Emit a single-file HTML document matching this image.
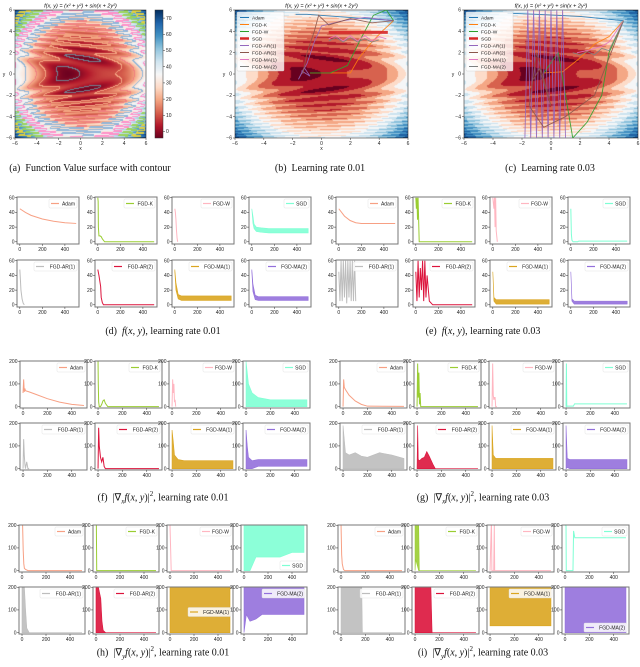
<!DOCTYPE html>
<html><head><meta charset="utf-8">
<style>
html,body{margin:0;padding:0;background:#fff;}
#root{position:relative;width:640px;height:667px;overflow:hidden;font-family:"Liberation Sans",sans-serif;}
canvas{position:absolute;}
#ov{position:absolute;left:0;top:0;}
.cap{position:absolute;font-family:"Liberation Serif",serif;font-size:10px;color:#111;white-space:nowrap;transform:translateX(-50%);}
</style></head>
<body>
<div id="root">
<canvas id="ca" width="131" height="128" style="left:15px;top:10px"></canvas>
<canvas id="cbar" width="8" height="128" style="left:155px;top:10px"></canvas>
<canvas id="cb" width="173" height="128" style="left:235px;top:10px"></canvas>
<canvas id="cc" width="174" height="128" style="left:464px;top:10px"></canvas>
<svg id="ov" width="640" height="667" xmlns="http://www.w3.org/2000/svg"></svg>
<div class="cap" style="left:90px;top:163px">(a)&nbsp; Function Value surface with contour</div>
<div class="cap" style="left:320px;top:163px">(b)&nbsp; Learning rate 0.01</div>
<div class="cap" style="left:550px;top:163px">(c)&nbsp; Learning rate 0.03</div>
<div class="cap" style="left:163px;top:326px">(d)&nbsp; <i>f</i>(<i>x</i>, <i>y</i>), learning rate 0.01</div>
<div class="cap" style="left:483px;top:326px">(e)&nbsp; <i>f</i>(<i>x</i>, <i>y</i>), learning rate 0.03</div>
<div class="cap" style="left:163px;top:490px">(f)&nbsp; |∇<sub style="font-size:7px"><i>x</i></sub><i>f</i>(<i>x</i>, <i>y</i>)|<sup style="font-size:7px">2</sup>, learning rate 0.01</div>
<div class="cap" style="left:483px;top:490px">(g)&nbsp; |∇<sub style="font-size:7px"><i>x</i></sub><i>f</i>(<i>x</i>, <i>y</i>)|<sup style="font-size:7px">2</sup>, learning rate 0.03</div>
<div class="cap" style="left:163px;top:645px">(h)&nbsp; |∇<sub style="font-size:7px"><i>y</i></sub><i>f</i>(<i>x</i>, <i>y</i>)|<sup style="font-size:7px">2</sup>, learning rate 0.01</div>
<div class="cap" style="left:483px;top:645px">(i)&nbsp; |∇<sub style="font-size:7px"><i>y</i></sub><i>f</i>(<i>x</i>, <i>y</i>)|<sup style="font-size:7px">2</sup>, learning rate 0.03</div>
</div>
<script>
// ---------- chart data ----------
const methods = ["Adam","FGD-K","FGD-W","SGD","FGD-AR(1)","FGD-AR(2)","FGD-MA(1)","FGD-MA(2)"];
const smallColors = ["#f7a084","#9acd32","#ffb6c1","#7fffd4","#bdbdbd","#dc143c","#daa520","#9370db"];
const trajColors = ["#1f77b4","#ff7f0e","#2ca02c","#d62728","#9467bd","#8c564b","#e377c2","#7f7f7f"];
const surfTicks = [-6,-4,-2,0,2,4,6];
const cbarTicks = [0,10,20,30,40,50,60,70];
const contourLevels = [0,10,20,30,40,50,60];
const contourColors = ["#708090","#f4a582","#f08080","#8fb5d8","#ff8fc8","#9ad35a","#e0d040"];
const fTicks = [0,20,40,60];
const gTicks = [0,100,200];
const iterTicks = [0,200,400];

// (d) f, lr 0.01
const d_adam_x=[0,50,100,200,300,400,500], d_adam_y=[45,40,36,31,28,26,25];
const d_k_x=[0,3,5,10,20,30,40,60,100,500], d_k_y=[60,55,20,8,8,7,4,0,0,0];
const d_w_x=[0,5,10,15,20,25], d_w_y=[45,40,30,15,5,0];
const d_sgd_x=[0,10,20,40,80,150,500], d_sgd_lo=[45,25,18,14,13,12,12], d_sgd_hi=[45,35,24,20,19,18,18];
const d_ar1_x=[0,5,10,20,30,40], d_ar1_y=[48,35,20,8,2,0];
const d_ar2_x=[0,10,20,25,30,40,50,500], d_ar2_y=[48,40,30,25,10,3,0,0];
const d_ma1_x=[0,10,30,60,500], d_ma1_lo=[45,20,8,6,6], d_ma1_hi=[48,30,14,12,12];
const d_ma2_x=[0,10,30,60,500], d_ma2_lo=[45,18,7,6,6], d_ma2_hi=[48,28,13,11,11];
// (e) f, lr 0.03
const e_adam_x=[0,50,100,150,200,300,500], e_adam_y=[45,35,29,26,25,25,25];
const e_k_x=[0,5,10,15,20,30,500], e_k_y=[60,45,60,30,60,0,0];
const e_w_x=[0,10,15,20,25,30,40], e_w_y=[60,45,60,20,60,15,0];
const e_sgd_x=[0,5,10,20,60,70,500], e_sgd_y=[45,10,2,0,0,1,1];
const e_ar1_x=[0,10,20,30,40,50,60,70,80,90,100,110,120,130,140,150], e_ar1_y=[45,5,60,5,60,10,60,2,60,10,60,5,60,5,60,5];
const e_ar2_x=[0,10,20,30,40,50,60,70,80,90,100,120,150,500], e_ar2_y=[45,5,60,10,50,20,60,5,60,10,40,5,0,0];
const e_ma1_x=[0,10,30,500], e_ma1_lo=[45,5,1,1], e_ma1_hi=[45,10,7,7];
const e_ma2_x=[0,10,30,500], e_ma2_lo=[45,5,1,1], e_ma2_hi=[45,8,5,5];
// (f) grad x, lr 0.01
const f_adam_x=[0,5,10,15,20,50,100,200,300,400,500], f_adam_y=[60,120,65,80,70,65,55,35,20,10,5];
const f_k_x=[0,2,5,10,20,30,40,50,60,80,500], f_k_y=[200,100,20,0,0,10,25,30,15,0,0];
const f_w_x=[0,5,10,15,20,25,30], f_w_y=[0,120,60,100,20,30,0];
const f_sgd_x=[0,10,20,50,100,200,500], f_sgd_lo=[0,0,0,0,0,0,0], f_sgd_hi=[200,150,100,60,40,30,30];
const f_ar1_x=[0,5,10,15,20,30,40,50], f_ar1_y=[0,130,60,20,0,30,0,0];
const f_ar2_x=[0,5,10,20,30,40,50,60,500], f_ar2_y=[0,180,100,50,30,50,10,0,0];
const f_ma1_x=[0,10,20,50,100,500], f_ma1_lo=[0,0,0,0,0,0], f_ma1_hi=[170,120,60,40,35,35];
const f_ma2_x=[0,10,20,50,100,500], f_ma2_lo=[0,0,0,0,10,10], f_ma2_hi=[170,100,50,35,40,40];
// (g) grad x, lr 0.03
const g_adam_x=[0,5,10,20,50,100,150,200,500], g_adam_y=[0,120,85,75,50,25,10,2,1];
const g_k_x=[0,5,10,15,20,25,30,500], g_k_y=[0,190,40,150,10,60,0,0];
const g_w_x=[0,5,10,15,20,25,30,40], g_w_y=[0,190,50,30,40,40,0,0];
const g_sgd_x=[0,3,6,10,60,70,500], g_sgd_y=[0,190,0,2,2,12,12];
const g_ar1_x=[0,20,50,100,150,200,300,400,500], g_ar1_lo=[0,0,0,0,0,0,0,0,0], g_ar1_hi=[190,70,60,70,55,50,70,60,45];
const g_ar2_x=[0,5,10,20,40,60,80,100,130,150,500], g_ar2_lo=[0,0,0,0,0,0,0,0,0,0,0], g_ar2_hi=[0,190,40,35,45,50,75,55,20,0,0];
const g_ma1_x=[0,10,30,500], g_ma1_lo=[0,0,0,0], g_ma1_hi=[190,60,45,45];
const g_ma2_x=[0,10,30,500], g_ma2_lo=[0,5,0,0], g_ma2_hi=[190,45,40,40];
// (h) grad y, lr 0.01
const h_adam_x=[0,5,10,15,20,30,50,500], h_adam_y=[200,200,90,30,10,5,0,0];
const h_k_x=[0,3,6,10,500], h_k_y=[200,200,0,0,0];
const h_w_x=[0,5,10,12,500], h_w_y=[200,100,0,0,0];
const h_sgd_x=[0,20,50,100,200,300,400,500], h_sgd_lo=[0,0,0,60,60,60,80,80], h_sgd_hi=[200,200,200,200,200,200,200,200];
const h_ar1_x=[0,10,20,30,40,60,500], h_ar1_lo=[0,0,0,0,0,0,0], h_ar1_hi=[200,200,200,100,20,0,0];
const h_ar2_x=[0,20,40,50,60,80,500], h_ar2_lo=[0,0,0,0,0,0,0], h_ar2_hi=[200,200,150,50,10,0,0];
const h_ma1_x=[0,50,100,300,500], h_ma1_lo=[0,0,0,0,0], h_ma1_hi=[200,200,200,200,200];
const h_ma2_x=[0,20,50,100,150,500], h_ma2_lo=[0,80,50,60,80,80], h_ma2_hi=[200,200,200,200,200,200];
// (i) grad y, lr 0.03
const i_adam_x=[0,5,10,20,30,500], i_adam_y=[200,70,30,5,0,0];
const i_k_x=[0,5,30,35,500], i_k_lo=[0,50,0,0,0], i_k_hi=[200,200,200,0,0];
const i_w_x=[0,10,12,15,30,35,38,500], i_w_y=[0,200,200,0,0,200,0,0];
const i_sgd_x=[0,8,10,65,70,80,500], i_sgd_y=[200,200,0,0,175,145,145];
const i_ar1_x=[0,100,170,175,500], i_ar1_lo=[0,0,0,0,0], i_ar1_hi=[200,200,200,0,0];
const i_ar2_x=[0,100,130,140,500], i_ar2_lo=[0,0,0,0,0], i_ar2_hi=[200,200,200,0,0];
const i_ma1_x=[0,100,300,500], i_ma1_lo=[30,30,30,30], i_ma1_hi=[200,200,200,200];
const i_ma2_x=[0,10,30,500], i_ma2_lo=[0,0,0,0], i_ma2_hi=[200,200,200,200];

// trajectories (data coords x,y)
const tb_adam_x=[5,3,1,-1,-1.8], tb_adam_y=[5,5.2,5.4,5.6,5.6];
const tb_k_x=[5,4.2,3.5,2.6,2,0.5,-0.8], tb_k_y=[5,4,3,1.5,0.1,0.1,0.1];
const tb_w_x=[5,4.5,3.6,2.8,1.8,0.6,-0.8], tb_w_y=[5,6,5.5,3.5,0.8,0.1,0.1];
const tb_sgd_x=[0.5,4.6], tb_sgd_y=[3.9,3.9];
const tb_ar1_x=[5,3,1.5,0,-0.5,-1,-1.6,-1.2,-0.8,-1.4], tb_ar1_y=[5,5.3,5,4.5,3,1,-0.5,0.6,-0.2,0.3];
const tb_ar2_x=[5,3.5,2,0.5,-0.2,-0.5,-1,-1.3], tb_ar2_y=[5,4.8,5.2,4.6,5.5,4,2,0];
const tb_ma1_x=[0.5,1,1.5,2,2.5,3,3.5,4,4.5], tb_ma1_y=[3.3,3.6,3.1,3.6,3.1,3.6,3.1,3.5,3.3];
const tb_ma2_x=[0.5,1,1.5,2,2.5,3,3.5,4], tb_ma2_y=[3.1,3.4,3,3.4,3,3.3,3,3.2];
const tc_adam_x=[5,2,-1,-3], tc_adam_y=[5,5.4,5.6,5.7];
const tc_k_x=[5,4,3,2,0.8,-0.5], tc_k_y=[5,3.5,2.8,1.5,0.2,0.1];
const tc_w_x=[5,4,3.5,2.5,1.5,0.5,-0.5], tc_w_y=[5,2,-2,-4.5,-6,2,0.1];
const tc_ar1_x=[-1.8,-1.6,-1.4,-1.2,-1,-0.8,-0.6,-0.4,-0.2,0,0.2,0.4,0.6,0.8,1], tc_ar1_y=[-6,6,-6,6,-6,6,-6,6,-6,6,-6,6,-6,6,-6];
const tc_ar2_x=[5,3,1,-0.5,-1.5,-1,0,-0.8,-1.2], tc_ar2_y=[5,-2,-4,-5,-3,2,-3,0.5,-0.5];
const tc_ma1_x=[5,4,3.5,3,2.5,1.8], tc_ma1_y=[5,3,2.6,2.4,2.2,2];
const tc_ma2_x=[5,4,3.5,3,2.5,2,1.5], tc_ma2_y=[5,2.2,2.4,1.8,2.1,1.8,2];

// ---------- helpers ----------
const NS="http://www.w3.org/2000/svg";
const svg=document.getElementById('ov');
function el(tag,attrs,parent){const e=document.createElementNS(NS,tag);for(const k in attrs)e.setAttribute(k,attrs[k]);(parent||svg).appendChild(e);return e;}
function fxy(x,y){return x*x+y*y+5*Math.sin(x+2*y*y);}
const stops=[[0,[103,0,31]],[0.1,[178,24,43]],[0.2,[214,96,77]],[0.3,[244,165,130]],[0.4,[253,219,199]],[0.5,[247,247,247]],[0.6,[209,229,240]],[0.7,[146,197,222]],[0.8,[67,147,195]],[0.9,[33,102,172]],[1,[5,48,97]]];
function cmap(t){t=Math.max(0,Math.min(1,t));for(let i=1;i<stops.length;i++){if(t<=stops[i][0]){const a=stops[i-1],b=stops[i];const u=(t-a[0])/(b[0]-a[0]);return a[1].map((v,k)=>Math.round(v+(b[1][k]-v)*u));}}return stops[stops.length-1][1];}
const VMIN=-4,VMAX=75;
function hexToRgb(h){return [parseInt(h.substr(1,2),16),parseInt(h.substr(3,2),16),parseInt(h.substr(5,2),16)];}

function drawSurface(id,discrete,contours){
  const c=document.getElementById(id),ctx=c.getContext('2d'),W=c.width,H=c.height;
  const img=ctx.createImageData(W,H);
  const vals=[];
  for(let j=0;j<H;j++){for(let i=0;i<W;i++){const x=-6+12*(i+0.5)/W,y=6-12*(j+0.5)/H;vals.push(fxy(x,y));}}
  for(let p=0;p<W*H;p++){let v=vals[p];if(discrete){v=Math.floor(v/8)*8+4;}
    const col=cmap((v-VMIN)/(VMAX-VMIN));img.data[p*4]=col[0];img.data[p*4+1]=col[1];img.data[p*4+2]=col[2];img.data[p*4+3]=255;}
  if(contours){
    for(let j=0;j<H-1;j++)for(let i=0;i<W-1;i++){const p=j*W+i,a=vals[p],b=vals[p+1],d=vals[p+W];
      contourLevels.forEach((L,k)=>{if((a-L)*(b-L)<0||(a-L)*(d-L)<0){const rgb=hexToRgb(contourColors[k]);img.data[p*4]=rgb[0];img.data[p*4+1]=rgb[1];img.data[p*4+2]=rgb[2];}});}
  }
  ctx.putImageData(img,0,0);
}
drawSurface('ca',false,true);
drawSurface('cb',true,false);
drawSurface('cc',true,false);
(function(){const c=document.getElementById('cbar'),ctx=c.getContext('2d');for(let j=0;j<c.height;j++){const v=VMAX-(VMAX-VMIN)*j/c.height;const col=cmap((v-VMIN)/(VMAX-VMIN));ctx.fillStyle='rgb('+col.join(',')+')';ctx.fillRect(0,j,c.width,1);}})();

function surfaceAxes(name,x0,y0,w,h,title){
  const g=el('g',{});
  
  
  const sx=v=>x0+(v+6)/12*w, sy=v=>y0+(6-v)/12*h;
  el('rect',{x:x0,y:y0,width:w,height:h,fill:'none',stroke:'#333','stroke-width':0.6},g);
  surfTicks.forEach(t=>{
    el('line',{x1:sx(t),x2:sx(t),y1:y0+h,y2:y0+h+2,stroke:'#333','stroke-width':0.5},g);
    const tx=el('text',{x:sx(t),y:y0+h+7,'font-size':5,'text-anchor':'middle',fill:'#222'},g);tx.textContent=(t<0?'−'+(-t):t);
    el('line',{x1:x0-2,x2:x0,y1:sy(t),y2:sy(t),stroke:'#333','stroke-width':0.5},g);
    const ty=el('text',{x:x0-3,y:sy(t)+1.7,'font-size':5,'text-anchor':'end',fill:'#222'},g);ty.textContent=(t<0?'−'+(-t):t);
  });
  const xl=el('text',{x:x0+w/2,y:y0+h+12,'font-size':5,'text-anchor':'middle',fill:'#222'},g);xl.textContent='x';
  const yl=el('text',{x:x0-11,y:y0+h/2+2,'font-size':5,'text-anchor':'middle',fill:'#222'},g);yl.textContent='y';
  const tt=el('text',{x:x0+w/2,y:y0-2.5,'font-size':5.5,'text-anchor':'middle',fill:'#111','font-style':'italic'},g);
  tt.textContent=title;
  return {sx,sy,g};
}
const TITLE='f(x, y) = (x² + y²) + sin(x + 2y²)';
surfaceAxes('surface-axes-a',15,10,131,128,TITLE);
(function(){const g=el('g',{});
  el('rect',{x:155,y:10,width:8,height:128,fill:'none',stroke:'#333','stroke-width':0.5},g);
  cbarTicks.forEach(t=>{const y=10+(VMAX-t)/(VMAX-VMIN)*128;el('line',{x1:163,x2:165,y1:y,y2:y,stroke:'#333','stroke-width':0.5},g);
    const tx=el('text',{x:166,y:y+1.7,'font-size':5,fill:'#222'},g);tx.textContent=t;});})();

function trajPlot(name,x0,w,sets){
  const ax=surfaceAxes(name,x0,10,w,128,TITLE);
  const cp=el('clipPath',{id:'clip-'+name});el('rect',{x:x0,y:10,width:w,height:128},cp);
  sets.forEach((s,k)=>{const pts=s[0].map((v,i)=>ax.sx(v)+','+ax.sy(s[1][i])).join(' ');
    const pl=el('polyline',{points:pts,fill:'none',stroke:trajColors[k],'stroke-width':k===3?3:0.9,'clip-path':'url(#clip-'+name+')',opacity:0.9},ax.g);
    
    });
  const lg=el('g',{},ax.g);
  
  
  el('rect',{x:x0+2,y:12,width:47,height:59,fill:'#fff','fill-opacity':0.8,stroke:'#ccc','stroke-width':0.4,rx:1},lg);
  methods.forEach((m,k)=>{const y=17.5+k*7;el('line',{x1:x0+5,x2:x0+14,y1:y,y2:y,stroke:trajColors[k],'stroke-width':k===3?2.5:1},lg);
    const t=el('text',{x:x0+17,y:y+1.8,'font-size':4.8,fill:'#222'},lg);t.textContent=m;});
}
trajPlot('trajectory-plot-b',235,173,[[tb_adam_x,tb_adam_y],[tb_k_x,tb_k_y],[tb_w_x,tb_w_y],[tb_sgd_x,tb_sgd_y],[tb_ar1_x,tb_ar1_y],[tb_ar2_x,tb_ar2_y],[tb_ma1_x,tb_ma1_y],[tb_ma2_x,tb_ma2_y]]);
trajPlot('trajectory-plot-c',464,174,[[tc_adam_x,tc_adam_y],[tc_k_x,tc_k_y],[tc_w_x,tc_w_y],[[],[]],[tc_ar1_x,tc_ar1_y],[tc_ar2_x,tc_ar2_y],[tc_ma1_x,tc_ma1_y],[tc_ma2_x,tc_ma2_y]]);

let clipN=0;
function smallPanel(name,x0,y0,w,h,kind,mi,series,legendPos){
  const g=el('g',{});
  
  
  const ylim=kind==='f'?[-3,61]:[-6,201], ticks=kind==='f'?fTicks:gTicks;
  const sx=v=>x0+(v+25)/550*w, sy=v=>y0+h-(v-ylim[0])/(ylim[1]-ylim[0])*h;
  const id='sp'+(clipN++);const cp=el('clipPath',{id:id});el('rect',{x:x0,y:y0,width:w,height:h},cp);
  const col=smallColors[mi];
  series.forEach(s=>{
    if(s.lo){const up=s.x.map((v,i)=>sx(v)+','+sy(s.hi[i]));const dn=s.x.map((v,i)=>sx(v)+','+sy(s.lo[i])).reverse();
      const p=el('polygon',{points:up.concat(dn).join(' '),fill:col,'fill-opacity':0.9,stroke:col,'stroke-width':0.6,'clip-path':'url(#'+id+')'},g);
      
      }
    else{const p=el('polyline',{points:s.x.map((v,i)=>sx(v)+','+sy(s.y[i])).join(' '),fill:'none',stroke:col,'stroke-width':1,'clip-path':'url(#'+id+')'},g);
      
      }
  });
  el('rect',{x:x0,y:y0,width:w,height:h,fill:'none',stroke:'#777','stroke-width':1},g);
  ticks.forEach(t=>{el('line',{x1:x0-2,x2:x0,y1:sy(t),y2:sy(t),stroke:'#333','stroke-width':0.5},g);
    const tx=el('text',{x:x0-2.5,y:sy(t)+1.8,'font-size':5,'text-anchor':'end',fill:'#222'},g);tx.textContent=t;});
  iterTicks.forEach(t=>{el('line',{x1:sx(t),x2:sx(t),y1:y0+h,y2:y0+h+2,stroke:'#333','stroke-width':0.5},g);
    const tx=el('text',{x:sx(t),y:y0+h+7,'font-size':5,'text-anchor':'middle',fill:'#222'},g);tx.textContent=t;});
  const label=methods[mi];const lw=label.length*3+16;
  let lx=x0+w-lw-2, ly=y0+2;
  if(legendPos==='br'){ly=y0+h-11;}
  if(legendPos==='mr'){ly=y0+h/2-3;}
  const lg=el('g',{},g);
  
  
  el('rect',{x:lx,y:ly,width:lw,height:9,fill:'#fff','fill-opacity':0.85,stroke:'#ddd','stroke-width':0.4,rx:1},lg);
  el('line',{x1:lx+2,x2:lx+10,y1:ly+4.5,y2:ly+4.5,stroke:col,'stroke-width':1.2},lg);
  const t=el('text',{x:lx+lw-2,y:ly+6.3,'font-size':5,'text-anchor':'end',fill:'#222'},lg);t.textContent=label;
}
function L(x,y){return {x,y};} function B(x,lo,hi){return {x,lo,hi};}
function grid(prefix,kind,xs,rows,w,h,sets,pos){
  for(let k=0;k<8;k++){const r=Math.floor(k/4),c=k%4;
    smallPanel(prefix+'-'+methods[k].toLowerCase().replace(/[()]/g,''),xs[c],rows[r],w,h,kind,k,[sets[k]],(pos&&pos[k])||'tr');}
}
grid('panel-d','f',[17,95,172,249],[197,260],62,47,[L(d_adam_x,d_adam_y),L(d_k_x,d_k_y),L(d_w_x,d_w_y),B(d_sgd_x,d_sgd_lo,d_sgd_hi),L(d_ar1_x,d_ar1_y),L(d_ar2_x,d_ar2_y),B(d_ma1_x,d_ma1_lo,d_ma1_hi),B(d_ma2_x,d_ma2_lo,d_ma2_hi)]);
grid('panel-e','f',[336,413,490,568],[197,260],62,47,[L(e_adam_x,e_adam_y),L(e_k_x,e_k_y),L(e_w_x,e_w_y),L(e_sgd_x,e_sgd_y),L(e_ar1_x,e_ar1_y),L(e_ar2_x,e_ar2_y),B(e_ma1_x,e_ma1_lo,e_ma1_hi),B(e_ma2_x,e_ma2_lo,e_ma2_hi)]);
grid('panel-f','g',[20,95,169,243],[361,423],67,47,[L(f_adam_x,f_adam_y),L(f_k_x,f_k_y),L(f_w_x,f_w_y),B(f_sgd_x,f_sgd_lo,f_sgd_hi),L(f_ar1_x,f_ar1_y),L(f_ar2_x,f_ar2_y),B(f_ma1_x,f_ma1_lo,f_ma1_hi),B(f_ma2_x,f_ma2_lo,f_ma2_hi)]);
grid('panel-g','g',[340,414,489,563],[361,423],67,47,[L(g_adam_x,g_adam_y),L(g_k_x,g_k_y),L(g_w_x,g_w_y),L(g_sgd_x,g_sgd_y),B(g_ar1_x,g_ar1_lo,g_ar1_hi),B(g_ar2_x,g_ar2_lo,g_ar2_hi),B(g_ma1_x,g_ma1_lo,g_ma1_hi),B(g_ma2_x,g_ma2_lo,g_ma2_hi)]);
grid('panel-h','g',[19,93,167,241],[525,587],66,47,[L(h_adam_x,h_adam_y),L(h_k_x,h_k_y),L(h_w_x,h_w_y),B(h_sgd_x,h_sgd_lo,h_sgd_hi),B(h_ar1_x,h_ar1_lo,h_ar1_hi),B(h_ar2_x,h_ar2_lo,h_ar2_hi),B(h_ma1_x,h_ma1_lo,h_ma1_hi),B(h_ma2_x,h_ma2_lo,h_ma2_hi)],[0,0,0,'br',0,0,'mr',0]);
grid('panel-i','g',[338,412,487,562],[525,587],67,47,[L(i_adam_x,i_adam_y),B(i_k_x,i_k_lo,i_k_hi),L(i_w_x,i_w_y),L(i_sgd_x,i_sgd_y),B(i_ar1_x,i_ar1_lo,i_ar1_hi),B(i_ar2_x,i_ar2_lo,i_ar2_hi),B(i_ma1_x,i_ma1_lo,i_ma1_hi),B(i_ma2_x,i_ma2_lo,i_ma2_hi)],[0,0,0,0,0,0,0,'br']);
</script>
</body></html>
